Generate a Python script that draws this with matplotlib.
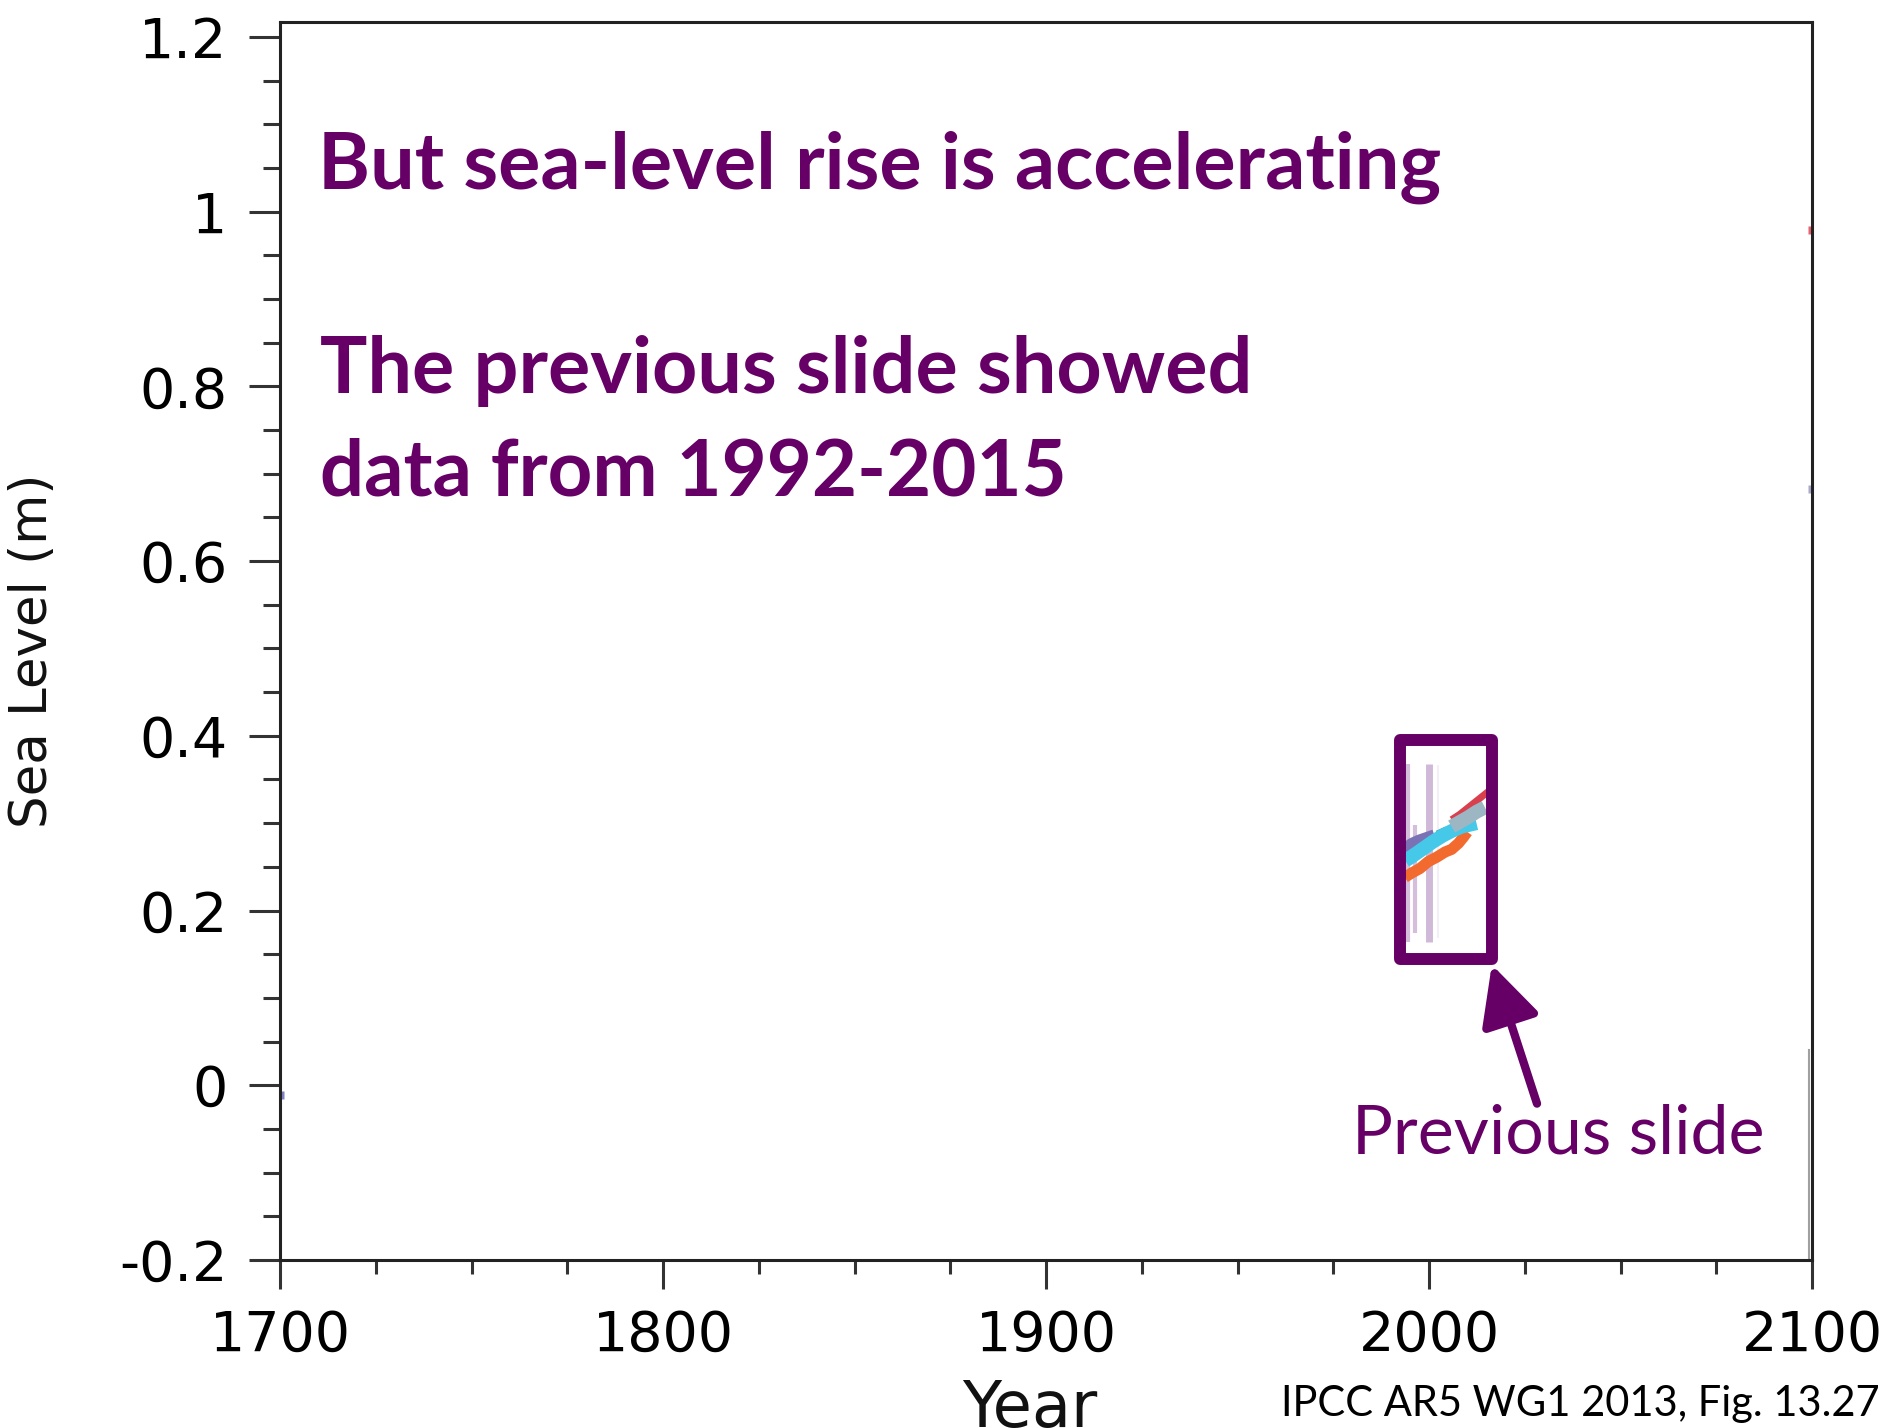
import matplotlib.pyplot as plt
from matplotlib.patches import Rectangle

# =======================================
#   DATOS
# =======================================

W, H = 1886, 1428
PURPLE = "#660066"

x_ticks = [1700, 1800, 1900, 2000, 2100]
y_ticks = [-0.2, 0, 0.2, 0.4, 0.6, 0.8, 1.0, 1.2]
y_tick_labels = ["-0.2", "0", "0.2", "0.4", "0.6", "0.8", "1", "1.2"]

purple_years = [1993.7, 1995.5, 1997.5, 1999.5, 2001.5]
purple_level = [0.268, 0.275, 0.279, 0.282, 0.285]

orange_years = [1993.7, 1995.5, 1997.6, 1999.8, 2002.0, 2004.2, 2005.9, 2007.7, 2009.0, 2010.0]
orange_level = [0.238, 0.243, 0.248, 0.256, 0.261, 0.267, 0.270, 0.277, 0.284, 0.290]

cyan_years = [1993.8, 1995.9, 1998.5, 2001.1, 2003.7, 2005.9, 2008.5, 2012.4]
cyan_level = [0.257, 0.263, 0.271, 0.279, 0.286, 0.291, 0.296, 0.300]

teal_years = [2002.0, 2004.5]
teal_level = [0.289, 0.294]

red_years = [2005.9, 2008.0, 2010.0, 2012.0, 2014.0, 2016.0]
red_level = [0.304, 0.310, 0.317, 0.324, 0.331, 0.338]

grey_years = [2005.9, 2008.1, 2010.3, 2012.4, 2014.6]
grey_level = [0.296, 0.3015, 0.307, 0.313, 0.318]

err_years = [1994.4, 1996.3, 2000.0, 2002.4]
err_low = [0.164, 0.174, 0.164, 0.168]
err_high = [0.368, 0.298, 0.368, 0.366]
err_width = [3.0, 3.0, 5.0, 1.5]
err_alpha = [0.6, 0.6, 0.65, 0.15]

# marcas de las proyecciones en los bordes
edge_years = [2100, 2100, 1700]
edge_level = [0.979, 0.683, -0.011]
edge_colors = ["#e8606c", "#a8a8cc", "#8080c0"]

box_years = (1992.3, 2016.4)
box_level = (0.144, 0.3955)
arrow_tail = (2028.2, -0.021)

# =======================================
#   GRAFICA
# =======================================

fig = plt.figure(figsize=(W / 100, H / 100), dpi=100)
ax = fig.add_axes([280 / W, 1 - 1260 / H, (1812 - 280) / W, (1260 - 22) / H])

ax.set_xlim(1700, 2100)
ax.set_ylim(-0.2, 1.217)

for xv, lo, hi, lw, a in zip(err_years, err_low, err_high, err_width, err_alpha):
    ax.plot([xv, xv], [lo, hi], color="#b894c4", lw=lw, alpha=a, zorder=1, solid_capstyle="butt")

ax.plot(purple_years, purple_level, color="#7b72b6", lw=10, solid_capstyle="butt", zorder=2)
ax.plot(orange_years, orange_level, color="#f26a2e", lw=8, solid_capstyle="butt", zorder=3)
ax.plot(cyan_years, cyan_level, color="#46c8e8", lw=10, solid_capstyle="butt", zorder=4)
ax.plot(teal_years, teal_level, color="#3aa89c", lw=3, solid_capstyle="butt", zorder=3)
ax.plot(red_years, red_level, color="#d8404e", lw=5, solid_capstyle="butt", zorder=5)
ax.plot(grey_years, grey_level, color="#9db6c4", lw=10, solid_capstyle="butt", zorder=6)

for xv, yv, c in zip(edge_years, edge_level, edge_colors):
    ax.plot([xv], [yv], marker="s", ms=6, mec="none", color=c, zorder=1)

# linea gris junto al borde derecho
ax.plot([2099.3, 2099.3], [-0.2, 0.04], color="#a0a0a0", lw=1.5, zorder=1)

ax.add_patch(Rectangle((box_years[0], box_level[0]), box_years[1] - box_years[0],
                       box_level[1] - box_level[0], fill=False, edgecolor=PURPLE,
                       lw=8.6, joinstyle="round", zorder=8))

ax.annotate("", xy=(box_years[1], box_level[0] - 0.006), xytext=arrow_tail,
            arrowprops=dict(arrowstyle="-|>,head_length=0.9,head_width=0.45",
                            color=PURPLE, lw=6, mutation_scale=40,
                            shrinkA=0, shrinkB=0),
            annotation_clip=False, zorder=8)

ax.set_xticks(x_ticks)
ax.set_xticks(range(1700, 2101, 25), minor=True)
ax.set_yticks(y_ticks)
ax.set_yticklabels(y_tick_labels)
ax.set_yticks([-0.2 + 0.05 * i for i in range(29)], minor=True)

for s in ax.spines.values():
    s.set_linewidth(2.2)
    s.set_color("#222222")

ax.tick_params(axis="both", which="both", direction="out", width=2.2, color="#333333")
ax.tick_params(axis="x", which="major", length=21, pad=14, labelsize=40)
ax.tick_params(axis="x", which="minor", length=10)
ax.tick_params(axis="y", which="major", length=22, pad=16, labelsize=40)
ax.tick_params(axis="y", which="minor", length=12)

fig.text(33 / W, 1 - 651 / H, "Sea Level (m)", rotation=90, ha="center", va="center",
         fontsize=37, color="#111111")
fig.text(1030 / W, 1 - 1427 / H, "Year", ha="center", va="baseline",
         fontsize=46, color="#111111")

# textos de la diapositiva
slide_font = "Lato"
fig.text(318 / W, 1 - 189 / H, "But sea-level rise is accelerating", ha="left",
         va="baseline", fontsize=57, fontweight="bold", color=PURPLE, family=slide_font)
fig.text(320 / W, 1 - 393 / H, "The previous slide showed", ha="left",
         va="baseline", fontsize=57, fontweight="bold", color=PURPLE, family=slide_font)
fig.text(320 / W, 1 - 496 / H, "data from 1992-2015", ha="left",
         va="baseline", fontsize=56, fontweight="bold", color=PURPLE, family=slide_font)
fig.text(1352 / W, 1 - 1153 / H, "Previous slide", ha="left", va="baseline",
         fontsize=49, color=PURPLE, family=slide_font)
fig.text(1880 / W, 1 - 1416 / H, "IPCC AR5 WG1 2013, Fig. 13.27", ha="right",
         va="baseline", fontsize=30, color="black", family=slide_font)

fig.savefig("out.png", dpi=100)
plt.close(fig)
